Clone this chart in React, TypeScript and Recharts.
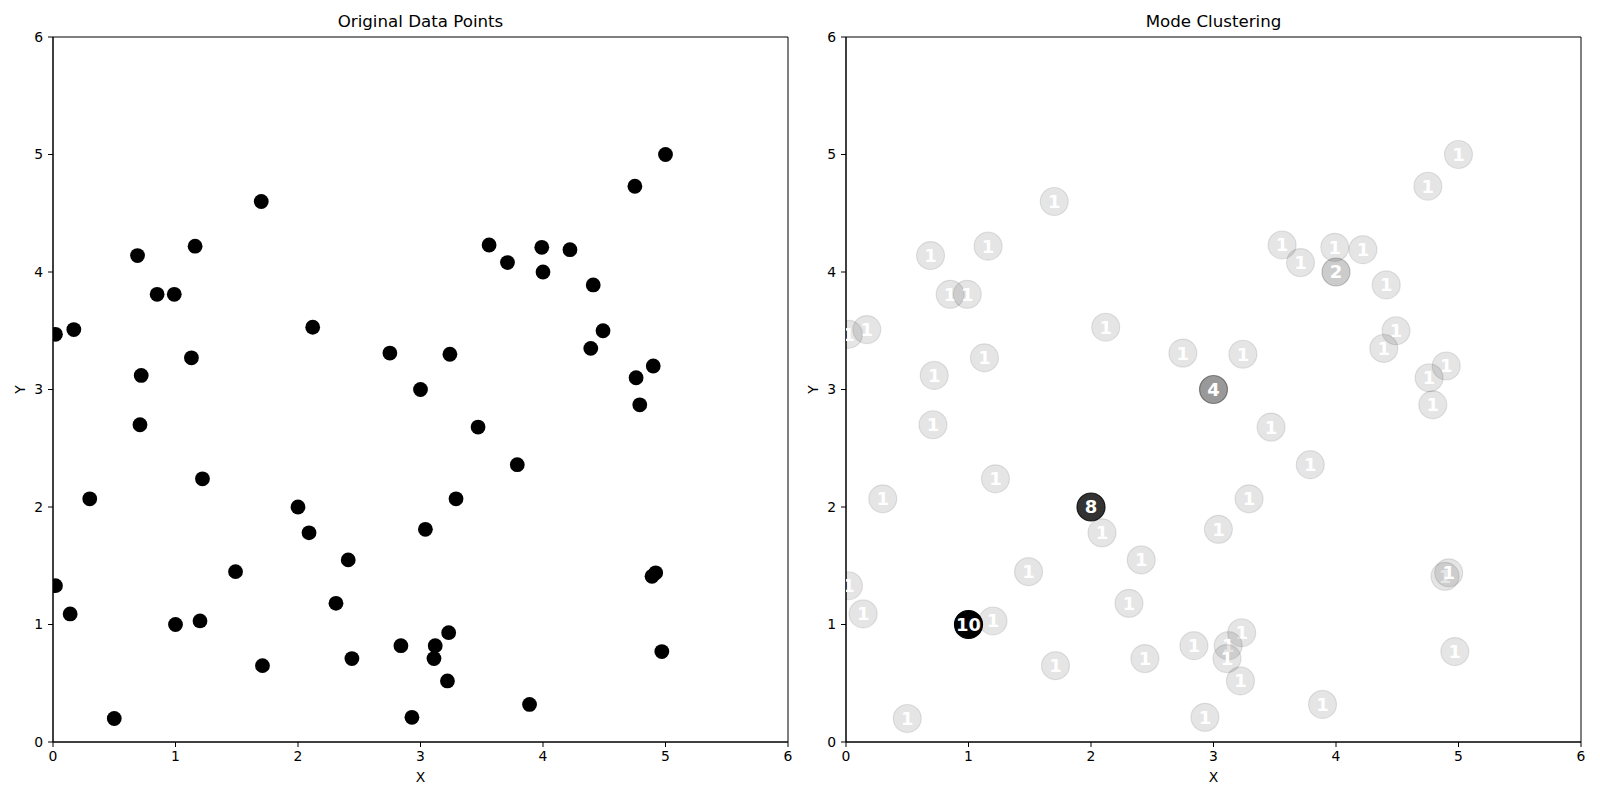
import { ScatterChart, Scatter, XAxis, YAxis, Label, ReferenceArea } from "recharts";

// one entry per mode; count = how many original points collapsed onto it
const pointX = [
  0.02, 0.17, 0.69, 0.85, 0.99, 1.16, 1.7, 2.12, 1.13, 0.72, 2.75, 3.0, 5.0, 4.75,
  3.56, 3.71, 3.99, 4.0, 4.22, 4.41, 4.49, 4.39, 3.24, 4.9, 4.76, 0.71, 1.22, 0.3,
  2.0, 2.09, 2.41, 1.49, 0.02, 0.14, 1.0, 1.2, 2.31, 2.84, 2.44, 1.71, 0.5, 2.93,
  3.04, 4.79, 3.47, 3.79, 3.29, 4.89, 4.92, 3.23, 3.12, 3.11, 3.22, 3.89, 4.97,
];
const pointY = [
  3.47, 3.51, 4.14, 3.81, 3.81, 4.22, 4.6, 3.53, 3.27, 3.12, 3.31, 3.0, 5.0, 4.73,
  4.23, 4.08, 4.21, 4.0, 4.19, 3.89, 3.5, 3.35, 3.3, 3.2, 3.1, 2.7, 2.24, 2.07,
  2.0, 1.78, 1.55, 1.45, 1.33, 1.09, 1.0, 1.03, 1.18, 0.82, 0.71, 0.65, 0.2, 0.21,
  1.81, 2.87, 2.68, 2.36, 2.07, 1.41, 1.44, 0.93, 0.82, 0.71, 0.52, 0.32, 0.77,
];
const modeCount = [
  1, 1, 1, 1, 1, 1, 1, 1, 1, 1, 1, 4, 1, 1,
  1, 1, 1, 2, 1, 1, 1, 1, 1, 1, 1, 1, 1, 1,
  8, 1, 1, 1, 1, 1, 10, 1, 1, 1, 1, 1, 1, 1,
  1, 1, 1, 1, 1, 1, 1, 1, 1, 1, 1, 1, 1,
];
const axisTicks = [0, 1, 2, 3, 4, 5, 6];

const points = pointX.map((x, i) => ({ x, y: pointY[i], count: modeCount[i] }));
const maxCount = Math.max(...modeCount);

const FONT = "DejaVu Sans";

const Dot = (props: any) => <circle cx={props.cx} cy={props.cy} r={7.4} fill="#000" />;

const ModeDot = (props: any) => {
  const { cx, cy, payload } = props;
  const a = payload.count / maxCount;
  return (
    <g>
      <circle cx={cx} cy={cy} r={14} fill="#000" fillOpacity={a} stroke="#000" strokeOpacity={a} strokeWidth={1.2} />
      <text x={cx} y={cy} dy="0.36em" textAnchor="middle" fill="#fff" fontWeight="bold" fontSize={18} fontFamily={FONT}>
        {payload.count}
      </text>
    </g>
  );
};

const yTitle = (props: any) => {
  const vb = props.viewBox;
  const x = vb.x + vb.width - 33;
  const y = vb.y + vb.height / 2;
  return (
    <text x={x} y={y} dy="0.36em" textAnchor="middle" transform={`rotate(-90 ${x} ${y})`} fontSize={13.9} fill="#000">
      Y
    </text>
  );
};

function Panel({ title, left, axisW, right, shape }: any) {
  const tick = { fill: "#000", fontSize: 13.9 };
  return (
    <div style={{ position: "absolute", left, top: 0, width: 800, height: 800, fontFamily: FONT }}>
      <div
        style={{
          position: "absolute",
          top: 12,
          left: axisW,
          width: 800 - axisW - right,
          textAlign: "center",
          fontSize: 16.67,
          lineHeight: "20px",
          color: "#000",
        }}
      >
        {title}
      </div>
      <ScatterChart width={800} height={800} margin={{ top: 37, right, bottom: 0, left: 0 }}>
        <XAxis
          type="number"
          dataKey="x"
          domain={[0, 6]}
          ticks={axisTicks}
          allowDataOverflow
          height={58}
          tick={tick}
          tickSize={5}
          tickMargin={4}
          axisLine={{ stroke: "#000" }}
          tickLine={{ stroke: "#000" }}
        >
          <Label value="X" position="insideBottom" offset={18} fill="#000" fontSize={13.9} />
        </XAxis>
        <YAxis
          type="number"
          dataKey="y"
          domain={[0, 6]}
          ticks={axisTicks}
          allowDataOverflow
          width={axisW}
          tick={tick}
          tickSize={5}
          tickMargin={5}
          axisLine={{ stroke: "#000" }}
          tickLine={{ stroke: "#000" }}
        >
          <Label content={yTitle} />
        </YAxis>
        <ReferenceArea x1={0} x2={6} y1={0} y2={6} fill="none" stroke="#000" strokeWidth={1} ifOverflow="visible" />
        <Scatter data={points} shape={shape} isAnimationActive={false} />
      </ScatterChart>
    </div>
  );
}

export default function App() {
  return (
    <div style={{ position: "absolute", left: 0, top: 0, width: 1600, height: 800, background: "#fff" }}>
      <Panel title="Original Data Points" left={0} axisW={53} right={12} shape={Dot} />
      <Panel title="Mode Clustering" left={800} axisW={46} right={19} shape={ModeDot} />
    </div>
  );
}
